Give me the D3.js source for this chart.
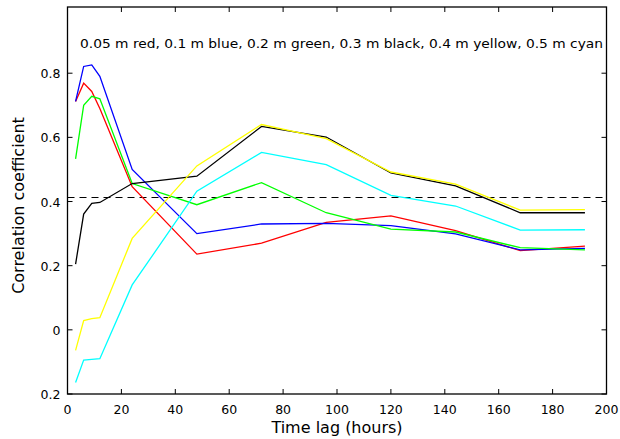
<!DOCTYPE html>
<html><head><meta charset="utf-8">
<script src="https://cdn.jsdelivr.net/npm/d3@7"></script>
<style>body{margin:0;background:#fff}svg{display:block}text{font-family:"DejaVu Sans",sans-serif}</style>
</head><body>
<svg id="c" width="620" height="439"></svg>
<script>
const lags = [3, 6, 9, 12, 24, 48, 72, 96, 120, 144, 168, 192];
const red    = [0.712, 0.769, 0.743, 0.690, 0.446, 0.236, 0.270, 0.335, 0.355, 0.309, 0.247, 0.261];
const blue   = [0.712, 0.821, 0.826, 0.790, 0.500, 0.300, 0.330, 0.332, 0.325, 0.299, 0.249, 0.254];
const green  = [0.533, 0.700, 0.728, 0.720, 0.456, 0.390, 0.459, 0.365, 0.314, 0.305, 0.256, 0.249];
const black  = [0.205, 0.361, 0.394, 0.397, 0.456, 0.479, 0.634, 0.601, 0.489, 0.449, 0.365, 0.365];
const yellow = [-0.064, 0.029, 0.035, 0.038, 0.285, 0.511, 0.640, 0.596, 0.492, 0.454, 0.373, 0.375];
const cyan   = [-0.164, -0.094, -0.092, -0.090, 0.140, 0.432, 0.553, 0.515, 0.419, 0.386, 0.311, 0.312];
const seriesNames = ["red", "blue", "green", "black", "yellow", "cyan"];
const threshold = 0.413;
const xTicks = [0, 20, 40, 60, 80, 100, 120, 140, 160, 180, 200];
const yTicks = [-0.2, 0, 0.2, 0.4, 0.6, 0.8];
const yTickLabels = ["0.2", "0", "0.2", "0.4", "0.6", "0.8"];
const legendText = "0.05 m red, 0.1 m blue, 0.2 m green, 0.3 m black, 0.4 m yellow, 0.5 m cyan";

const colors = {red:"#ff0000", blue:"#0000ff", green:"#00ff00", black:"#000000", yellow:"#ffff00", cyan:"#00ffff"};
const data = {red, blue, green, black, yellow, cyan};

const L = 67.5, R = 606.5, T = 7, B = 394;
const svg = d3.select("#c");
const x = d3.scaleLinear().domain([0, 200]).range([L, R]);
const y = d3.scaleLinear().domain([-0.2, 0.8]).range([B, 73.2]);

// lines
const line = d3.line().x((d, i) => x(lags[i])).y(d => y(d));
// dashed threshold
svg.append("line").attr("x1", L).attr("x2", R).attr("y1", Math.round(y(threshold)) + 0.5).attr("y2", Math.round(y(threshold)) + 0.5)
  .attr("stroke", "#000").attr("stroke-width", 1.2).attr("stroke-dasharray", "7,5");
seriesNames.forEach(n => {
  svg.append("path").datum(data[n]).attr("d", line).attr("fill", "none")
    .attr("stroke", colors[n]).attr("stroke-width", 1.3);
});

// box
svg.append("rect").attr("x", L).attr("y", T).attr("width", R - L).attr("height", B - T)
  .attr("fill", "none").attr("stroke", "#000").attr("stroke-width", 1.3);

// ticks inside, on all sides
const tl = 5;
xTicks.forEach(t => {
  svg.append("line").attr("x1", x(t)).attr("x2", x(t)).attr("y1", B).attr("y2", B - tl).attr("stroke", "#000");
  svg.append("line").attr("x1", x(t)).attr("x2", x(t)).attr("y1", T).attr("y2", T + tl).attr("stroke", "#000");
  svg.append("text").attr("x", x(t)).attr("y", B + 20).attr("text-anchor", "middle")
    .attr("font-size", 12.5).text(t);
});
yTicks.forEach((t, i) => {
  svg.append("line").attr("x1", L).attr("x2", L + tl).attr("y1", y(t)).attr("y2", y(t)).attr("stroke", "#000");
  svg.append("line").attr("x1", R).attr("x2", R - tl).attr("y1", y(t)).attr("y2", y(t)).attr("stroke", "#000");
  svg.append("text").attr("x", L - 7).attr("y", y(t) + 5).attr("text-anchor", "end")
    .attr("font-size", 12.5).text(yTickLabels[i]);
});

// legend text
svg.append("text").attr("x", 80).attr("y", 48).attr("font-size", 13).attr("textLength", 523)
  .attr("lengthAdjust", "spacingAndGlyphs").text(legendText);

// axis titles
svg.append("text").attr("x", (L + R) / 2).attr("y", 433).attr("text-anchor", "middle")
  .attr("font-size", 16).text("Time lag (hours)");
svg.append("text").attr("transform", "translate(24," + ((T + B) / 2 + 5) + ") rotate(-90)")
  .attr("text-anchor", "middle").attr("font-size", 16).text("Correlation coefficient");
</script>
</body></html>
